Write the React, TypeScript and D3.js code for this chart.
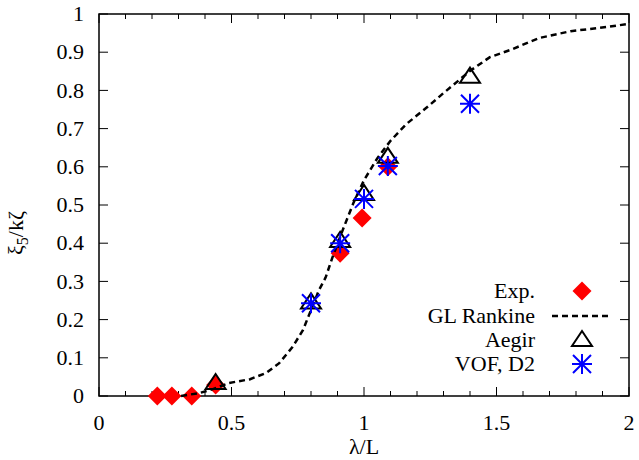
import React from "react";
import * as d3 from "d3";

const expX = [0.22, 0.275, 0.35, 0.44, 0.91, 0.993, 1.09];
const expY = [0, 0, 0, 0.029, 0.374, 0.466, 0.6];

const aegirX = [0.44, 0.8, 0.91, 1.0, 1.09, 1.4];
const aegirY = [0.034, 0.245, 0.406, 0.529, 0.626, 0.836];

const vofX = [0.8, 0.91, 1.0, 1.09, 1.4];
const vofY = [0.243, 0.4, 0.516, 0.602, 0.765];

const glX = [0.31, 0.38, 0.43, 0.49, 0.57, 0.63, 0.68, 0.73, 0.77, 0.8, 0.83, 0.855, 0.88, 0.92, 0.96, 1.0, 1.05, 1.1, 1.16, 1.24, 1.3, 1.4, 1.475, 1.56, 1.66, 1.78, 1.88, 2.0];
const glY = [0, 0.008, 0.018, 0.034, 0.044, 0.06, 0.086, 0.128, 0.173, 0.225, 0.277, 0.31, 0.361, 0.435, 0.505, 0.565, 0.622, 0.668, 0.712, 0.757, 0.793, 0.851, 0.887, 0.908, 0.937, 0.955, 0.963, 0.974];

const xTickLabels = ["0", "0.5", "1", "1.5", "2"];
const yTickLabels = ["0", "0.1", "0.2", "0.3", "0.4", "0.5", "0.6", "0.7", "0.8", "0.9", "1"];
const legendLabels = ["Exp.", "GL Rankine", "Aegir", "VOF, D2"];

const W = 639, H = 460;
const L = 99, R = 629, T = 14, B = 396;
const FONT = "Liberation Serif";
const ts = { fontFamily: FONT, fontSize: 22 } as React.CSSProperties;

export default function App() {
  const x = d3.scaleLinear().domain([0, 2]).range([L, R]);
  const y = d3.scaleLinear().domain([0, 1]).range([B, T]);
  const line = d3.line<number>().x((_, i) => x(glX[i])).y((_, i) => y(glY[i]));
  const xMinor = d3.range(0, 21).map((i) => i / 10);
  const yMajor = d3.range(0, 11).map((i) => i / 10);

  const diamond = (cx: number, cy: number, k: string) => (
    <path key={k} d={`M${cx},${cy - 9.5}L${cx + 9.5},${cy}L${cx},${cy + 9.5}L${cx - 9.5},${cy}Z`} fill="#ff0000" />
  );
  const triangle = (cx: number, cy: number, k: string) => (
    <path key={k} d={`M${cx},${cy - 9}L${cx + 10},${cy + 6}L${cx - 10},${cy + 6}Z`} fill="none" stroke="#000" strokeWidth={2} />
  );
  const star = (cx: number, cy: number, k: string) => (
    <path key={k} d={`M${cx - 10},${cy}H${cx + 10}M${cx},${cy - 10}V${cy + 10}M${cx - 9},${cy - 9}L${cx + 9},${cy + 9}M${cx - 9},${cy + 9}L${cx + 9},${cy - 9}`} stroke="#0000ff" strokeWidth={2} fill="none" />
  );

  const legY = [291, 316, 340, 364];
  const legTextX = 535, legSymX = 582;

  return (
    <svg width={W} height={H} style={{ position: "absolute", left: 0, top: 0, background: "#fff", fontFamily: FONT }}>
      <rect x={0} y={0} width={W} height={H} fill="#fff" />
      <g stroke="#000" strokeWidth={1}>
        {xMinor.map((v, i) => {
          const major = i % 5 === 0;
          const len = major ? 9 : 5;
          return (
            <g key={"xt" + i}>
              <line x1={x(v)} x2={x(v)} y1={B} y2={B - len} />
              <line x1={x(v)} x2={x(v)} y1={T} y2={T + len} />
            </g>
          );
        })}
        {yMajor.map((v, i) => (
          <g key={"yt" + i}>
            <line x1={L} x2={L + 9} y1={y(v)} y2={y(v)} />
            <line x1={R} x2={R - 9} y1={y(v)} y2={y(v)} />
          </g>
        ))}
      </g>
      <rect x={L} y={T} width={R - L} height={B - T} fill="none" stroke="#000" strokeWidth={1.5} />
      {xTickLabels.map((t, i) => (
        <text key={"xl" + i} x={x(i * 0.5)} y={430} textAnchor="middle" style={ts} fill="#000">{t}</text>
      ))}
      {yTickLabels.map((t, i) => (
        <text key={"yl" + i} x={84} y={y(i / 10)} dy="0.33em" textAnchor="end" style={ts} fill="#000">{t}</text>
      ))}
      <text x={x(1)} y={454} textAnchor="middle" style={ts} fill="#000">λ/L</text>
      <text transform="translate(23,233) rotate(-90)" textAnchor="middle" style={ts} fill="#000">
        ξ<tspan style={{ fontSize: 16 }} dy={5}>5</tspan><tspan dy={-5}>/kζ</tspan>
      </text>
      {expX.map((v, i) => diamond(x(v), y(expY[i]), "e" + i))}
      <path d={line(glX) || ""} fill="none" stroke="#000" strokeWidth={2.5} strokeDasharray="6,4" />
      {aegirX.map((v, i) => triangle(x(v), y(aegirY[i]), "a" + i))}
      {vofX.map((v, i) => star(x(v), y(vofY[i]), "v" + i))}
      {legendLabels.map((t, i) => (
        <text key={"lg" + i} x={legTextX} y={legY[i]} dy="0.33em" textAnchor="end" style={ts} fill="#000">{t}</text>
      ))}
      {diamond(legSymX, legY[0], "ld")}
      <line x1={552} x2={612} y1={legY[1]} y2={legY[1]} stroke="#000" strokeWidth={2.5} strokeDasharray="6,4" />
      {triangle(legSymX, legY[2], "lt")}
      {star(legSymX, legY[3], "ls")}
    </svg>
  );
}
